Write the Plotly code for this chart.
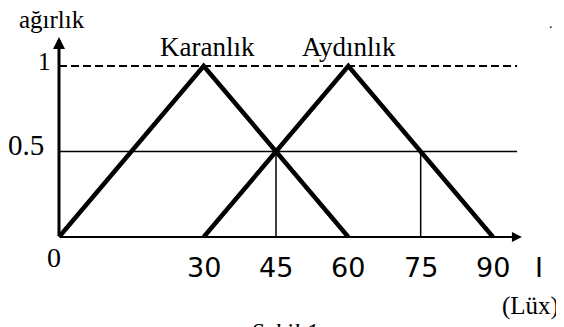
import plotly.graph_objects as go

# Data
dark_x = [0, 30, 60]
dark_y = [0, 1, 0]
light_x = [30, 60, 90]
light_y = [0, 1, 0]
x_tick_vals = [30, 45, 60, 75, 90]
x_tick_text = ["30", "45", "60", "75", "90"]
y_tick_vals = [0, 0.5, 1]
y_tick_text = ["0", "0.5", "1"]
cut_x = [45, 75]
cut_level = 0.5
x_end = 95
arrow_x_end = 96
arrow_y_end = 1.17

# page has an 8px body margin; size the figure so it fits the window
PAD = 8
W, H = 564 - PAD, 327 - PAD
ox, oy = 59 - PAD, 237 - PAD          # origin position in figure pixels
px_per_x = (493 - 59) / 90
px_per_y = (237 - 66) / 1.0
x0 = -ox / px_per_x
x1 = (W - ox) / px_per_x
y1 = oy / px_per_y
y0 = -(H - oy) / px_per_y

serif = "Liberation Serif"
sans = "DejaVu Sans"

fig = go.Figure()

# reference lines
fig.add_trace(go.Scatter(x=[0, x_end], y=[1, 1], mode="lines",
                         line=dict(color="black", width=2, dash="8px,4px"), hoverinfo="skip"))
fig.add_trace(go.Scatter(x=[0, x_end], y=[cut_level, cut_level], mode="lines",
                         line=dict(color="black", width=1.5), hoverinfo="skip"))
for cx in cut_x:
    fig.add_trace(go.Scatter(x=[cx, cx], y=[0, cut_level], mode="lines",
                             line=dict(color="black", width=1.5), hoverinfo="skip"))

# membership triangles
fig.add_trace(go.Scatter(x=dark_x, y=dark_y, mode="lines",
                         line=dict(color="black", width=4.5), hoverinfo="skip"))
fig.add_trace(go.Scatter(x=light_x, y=light_y, mode="lines",
                         line=dict(color="black", width=4.5), hoverinfo="skip"))

annotations = []
# axes arrows
annotations.append(dict(x=arrow_x_end, y=0, ax=0, ay=0, xref="x", yref="y", axref="x", ayref="y",
                        showarrow=True, arrowhead=2, arrowsize=1, arrowwidth=2, arrowcolor="black", text=""))
annotations.append(dict(x=0, y=arrow_y_end, ax=0, ay=0, xref="x", yref="y", axref="x", ayref="y",
                        showarrow=True, arrowhead=2, arrowsize=0.8, arrowwidth=3, arrowcolor="black", text=""))

# x tick labels
for v, t in zip(x_tick_vals, x_tick_text):
    annotations.append(dict(x=v, y=0, xref="x", yref="y", text=t, showarrow=False,
                            yshift=-30, font=dict(family=sans, size=27, color="black")))
annotations.append(dict(x=99.5, y=0, xref="x", yref="y", text="I", showarrow=False,
                        yshift=-30, font=dict(family=sans, size=27, color="black")))

# y tick labels
annotations.append(dict(x=0, y=0, xref="x", yref="y", text="0", showarrow=False,
                        xshift=-5, yshift=-20, font=dict(family=serif, size=28, color="black")))
annotations.append(dict(x=0, y=0.5, xref="x", yref="y", text="0.5", showarrow=False,
                        xshift=-33, yshift=7, font=dict(family=serif, size=29, color="black")))
annotations.append(dict(x=0, y=1, xref="x", yref="y", text="1", showarrow=False,
                        xshift=-15, yshift=5, font=dict(family=serif, size=25, color="black")))

# labels
annotations.append(dict(x=0, y=1, xref="x", yref="y", text="ağırlık", showarrow=False,
                        xshift=-7, yshift=47, font=dict(family=serif, size=25, color="black")))
annotations.append(dict(x=30.7, y=1, xref="x", yref="y", text="Karanlık", showarrow=False,
                        yshift=19, font=dict(family=serif, size=27, color="black")))
annotations.append(dict(x=60.1, y=1, xref="x", yref="y", text="Aydınlık", showarrow=False,
                        yshift=19, font=dict(family=serif, size=27, color="black")))
annotations.append(dict(x=97.7, y=0, xref="x", yref="y", text="(Lüx)", showarrow=False,
                        yshift=-69, font=dict(family=serif, size=25, color="black")))
annotations.append(dict(x=46.8, y=0, xref="x", yref="y", text="<i>Şekil 1</i>", showarrow=False,
                        yshift=-95, font=dict(family=serif, size=25, color="black")))
annotations.append(dict(x=102, y=1.25, xref="x", yref="y", text=".", showarrow=False,
                        font=dict(family=serif, size=14, color="black")))

fig.update_layout(
    width=W, height=H,
    margin=dict(l=0, r=0, t=0, b=0),
    paper_bgcolor="white", plot_bgcolor="white",
    showlegend=False,
    xaxis=dict(range=[x0, x1], visible=False, fixedrange=True),
    yaxis=dict(range=[y0, y1], visible=False, fixedrange=True),
    annotations=annotations,
)

fig.write_html("out.html")
